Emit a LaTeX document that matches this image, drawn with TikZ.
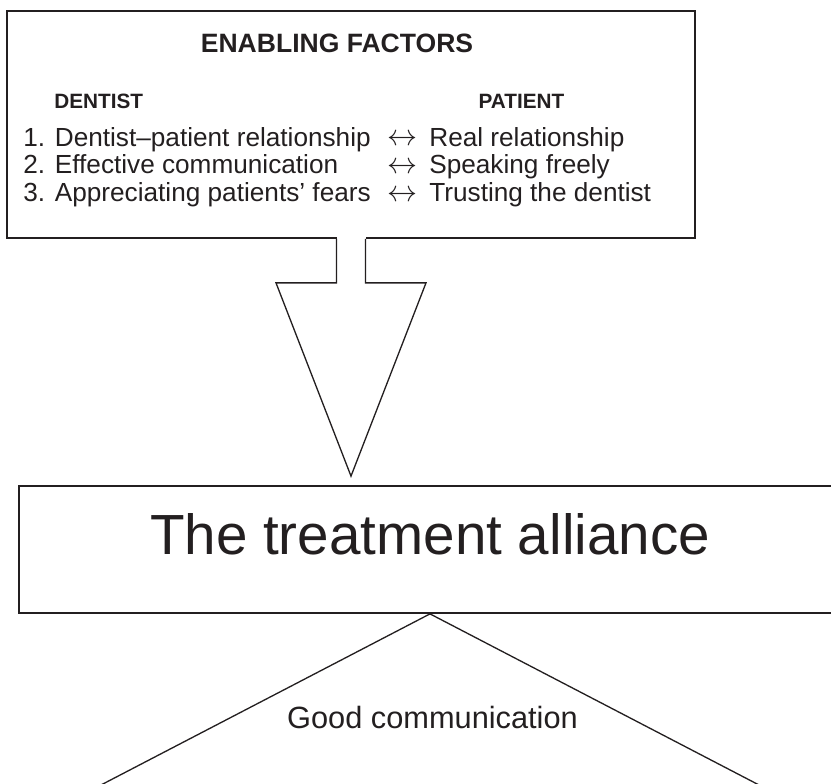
\documentclass[tikz,border=0pt]{standalone}
\usepackage{fontspec}
\setmainfont{Liberation Sans}
\usepackage{xcolor}
\usepackage{graphicx}
\usepackage{tikz}
\usetikzlibrary{calc,positioning}
\definecolor{inkblack}{HTML}{231F20}
\tikzset{
  framebox/.style={draw=inkblack, line width=1pt, inner sep=0pt},
  outline/.style={draw=inkblack, line width=0.75pt, line join=miter},
  headtext/.style={inner sep=0pt, anchor=base, font=\fontsize{15.1}{18}\selectfont\bfseries},
  coltext/.style={inner sep=0pt, font=\fontsize{11.8}{14}\selectfont\bfseries},
  rowtext/.style={inner sep=0pt, anchor=base west, font=\fontsize{14.9}{18}\selectfont}
}

\begin{document}
\begin{tikzpicture}[inkblack]
  \clip (0,0) rectangle (16.62,15.66);
  % enabling factors
  \node[framebox, minimum width=13.76cm, minimum height=4.54cm] (factors) at (7.02,13.17) {};
  \node[headtext] (title) at (6.74,14.6) {ENABLING FACTORS};
  \node[coltext, anchor=base west] (dentist) at (1.08,13.48) {DENTIST};
  \node[coltext, anchor=base] (patient) at (10.43,13.48) {PATIENT};
  \foreach \i/\dtxt/\ptxt in {1/{Dentist--patient relationship}/{Real relationship},
                              2/{Effective communication}/{Speaking freely},
                              3/{Appreciating patients’ fears}/{Trusting the dentist}}{
    \node[rowtext] (d\i) at (0.46,{13.3-0.56*\i}) {\i. \dtxt};
    \node[rowtext] (a\i) at (7.74,{13.3-0.56*\i}) {\resizebox{0.6cm}{!}{$\leftrightarrow$}};
    \node[rowtext] (p\i) at (8.58,{13.3-0.56*\i}) {\ptxt};
  }
  % treatment alliance
  \node[framebox, minimum width=16.44cm, minimum height=2.54cm, text height=0.75em, text depth=0.2em,
        font=\fontsize{32.2}{38}\selectfont] (alliance) at (8.6,4.67) {The treatment alliance};
  % big arrow
  \coordinate (tip) at ($(factors.south |- alliance.north)+(0,0.18)$);
  \path ([xshift=-0.29cm]factors.south) ++(0,-0.88) coordinate (stemL);
  \path ([xshift=0.29cm]factors.south) ++(0,-0.88) coordinate (stemR);
  \fill[white] ([xshift=-0.29cm,yshift=1pt]factors.south) rectangle ([xshift=0.29cm,yshift=-1pt]factors.south);
  \draw[outline] ([xshift=-0.29cm]factors.south) -- (stemL) -- ++(-1.21,0) -- (tip)
    -- ($(stemR)+(1.21,0)$) -- (stemR) -- ([xshift=0.29cm]factors.south);
  % good communication
  \coordinate (baseL) at (2.0,-0.05);
  \coordinate (baseR) at (15.2,-0.05);
  \draw[outline] (baseL) -- (alliance.south) -- (baseR);
  \node[inner sep=0pt, anchor=base, font=\fontsize{17.5}{21}\selectfont] (good) at (8.65,1.1) {Good communication};
\end{tikzpicture}
\end{document}
